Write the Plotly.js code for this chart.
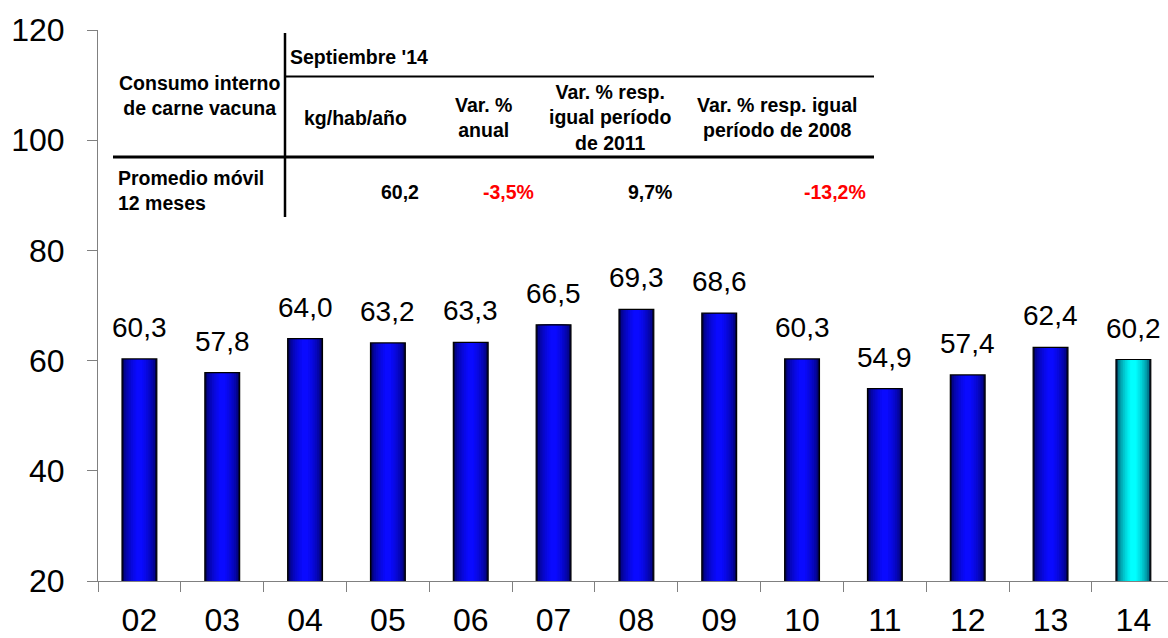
<!DOCTYPE html>
<html>
<head>
<meta charset="utf-8">
<script src="https://cdn.plot.ly/plotly-3.0.1.min.js"></script>
<style>html,body{margin:0;padding:0;background:#fff;}#chart{width:1168px;height:638px;}</style>
</head>
<body>
<div id="chart"></div>
<script>
// ---- data ----
var categories = ['02','03','04','05','06','07','08','09','10','11','12','13','14'];
var values = [60.3, 57.8, 64.0, 63.2, 63.3, 66.5, 69.3, 68.6, 60.3, 54.9, 57.4, 62.4, 60.2];
var highlighted = [false,false,false,false,false,false,false,false,false,false,false,false,true];
var yTicks = [20, 40, 60, 80, 100, 120];

var tableTitle = 'Septiembre \'14';
var rowHeader = 'Consumo interno<br>de carne vacuna';
var colHeaders = ['kg/hab/año', 'Var. %<br>anual', 'Var. % resp.<br>igual período<br>de 2011', 'Var. % resp. igual<br>período de 2008'];
var rowLabel = 'Promedio móvil<br>12 meses';
var rowValues = ['60,2', '-3,5%', '9,7%', '-13,2%'];
var rowValueNegative = [false, true, false, true];

// ---- geometry helpers (pixels -> paper) ----
var W = 1168, H = 638, ML = 98, MR = 0, MT = 30, MB = 57;
var PW = W - ML - MR, PH = H - MT - MB;
function px(x){ return (x - ML) / PW; }
function py(y){ return (H - MB - y) / PH; }

function lerp(a,b,t){ return Math.round(a + (b-a)*t); }
function rgb(c){ return 'rgb(' + c[0] + ',' + c[1] + ',' + c[2] + ')'; }
var blueEdge = [0,0,70], blueMid = [10,10,255];
var cyanEdge = [0,40,70], cyanMid = [0,255,255];

var traces = [];
var N = 9, fullW = 0.42;
for (var i = 0; i < N; i++) {
  var t = Math.pow(i/(N-1), 0.45);
  var w = fullW * (1 - i/N * 0.92);
  var cols = highlighted.map(function(h){
    var e = h ? cyanEdge : blueEdge, m = h ? cyanMid : blueMid;
    return rgb([lerp(e[0],m[0],t), lerp(e[1],m[1],t), lerp(e[2],m[2],t)]);
  });
  traces.push({
    type:'bar', x:categories, y:values, width:w,
    marker:{color:cols, line:{width:0}},
    hoverinfo:'skip'
  });
}
traces.push({
  type:'bar', x:categories, y:values, width:fullW,
  marker:{color:'rgba(0,0,0,0)', line:{width:1.2, color:'#000'}},
  hoverinfo:'skip'
});

var font = 'Liberation Sans, Arial, sans-serif';
var annotations = [];
categories.forEach(function(c, k){
  annotations.push({
    x:k, y:values[k], xref:'x', yref:'y', text: values[k].toFixed(1).replace('.', ','),
    showarrow:false, yanchor:'bottom', yshift:14,
    font:{family:font, size:28, color:'#000'}
  });
});

// table texts
function ann(text, x, y, xa, color){
  annotations.push({xref:'paper', yref:'paper', x:px(x), y:py(y), text:'<b>'+text+'</b>',
    showarrow:false, xanchor:xa, yanchor:'middle', align: xa === 'right' ? 'right' : (xa === 'left' ? 'left' : 'center'),
    font:{family:font, size:19.5, color:color || '#000'}});
}
ann(tableTitle, 288, 57, 'left');
ann(rowHeader, 199, 96, 'center');
var colX = [355, 483, 610, 777];
var colY = [118, 118, 118, 118];
colHeaders.forEach(function(h, k){ ann(h, colX[k], colY[k], 'center'); });
ann(rowLabel, 116, 191, 'left');
var valX = [421, 536, 674, 868];
rowValues.forEach(function(v, k){ ann(v, valX[k], 192, 'right', rowValueNegative[k] ? '#ff0000' : '#000'); });

var shapes = [
  {type:'line', xref:'paper', yref:'paper', x0:px(285), x1:px(285), y0:py(33), y1:py(217), line:{color:'#000', width:2.5}},
  {type:'line', xref:'paper', yref:'paper', x0:px(285), x1:px(874), y0:py(76.5), y1:py(76.5), line:{color:'#000', width:2}},
  {type:'line', xref:'paper', yref:'paper', x0:px(113), x1:px(874), y0:py(157), y1:py(157), line:{color:'#000', width:3}}
];

var layout = {
  width:W, height:H,
  margin:{l:ML, r:MR, t:MT, b:MB, pad:0},
  paper_bgcolor:'#fff', plot_bgcolor:'#fff',
  showlegend:false, barmode:'overlay',
  font:{family:font, color:'#000'},
  xaxis:{
    type:'category', range:[-0.5, -0.5 + PW/82.83], tickson:'boundaries',
    ticks:'outside', ticklen:10, tickcolor:'#808080', tickwidth:1,
    showline:true, linecolor:'#808080', linewidth:1, showgrid:false, zeroline:false,
    tickfont:{family:font, size:32, color:'#000'}, ticklabelstandoff:11, fixedrange:true
  },
  yaxis:{
    range:[20,120], tickvals:yTicks, ticks:'outside', ticklen:10, tickcolor:'#808080', tickwidth:1,
    showline:true, linecolor:'#808080', linewidth:1, showgrid:false, zeroline:false,
    tickfont:{family:font, size:32, color:'#000'}, ticklabelstandoff:16, fixedrange:true
  },
  annotations:annotations,
  shapes:shapes
};

Plotly.newPlot('chart', traces, layout, {staticPlot:true, displayModeBar:false});
</script>
</body>
</html>
